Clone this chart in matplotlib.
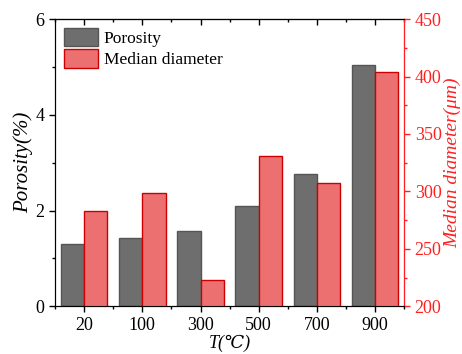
import numpy as np
import matplotlib.pyplot as plt
from matplotlib.ticker import MultipleLocator

plt.rcParams['font.family'] = ['Liberation Serif', 'DejaVu Serif']

temps = ['20', '100', '300', '500', '700', '900']
porosity = [1.30, 1.42, 1.58, 2.10, 2.76, 5.05]
median_diam = [283, 299, 223, 331, 307, 404]

grey = '#6e6e6e'
red = '#ec7070'
axis_red = '#ff2020'

fig = plt.figure(figsize=(4.62, 3.54), dpi=100)
ax = fig.add_axes([0.119, 0.135, 0.756, 0.811])
ax2 = ax.twinx()

x = np.arange(len(temps))
w = 0.4
b1 = ax.bar(x - w / 2, porosity, w, color=grey, edgecolor='#555555', linewidth=1.0,
            label='Porosity', zorder=2)
b2 = ax2.bar(x + w / 2, median_diam, w, color=red, edgecolor='#cc0000',
             linewidth=1.0, label='Median diameter', zorder=2)

ax.set_xlim(-0.5, 5.5)
ax.set_ylim(0, 6)
ax2.set_ylim(200, 450)

ax.set_xticks(x)
ax.set_xticklabels(temps)
ax.xaxis.set_minor_locator(MultipleLocator(0.5))
ax.yaxis.set_major_locator(MultipleLocator(2))
ax.yaxis.set_minor_locator(MultipleLocator(1))
ax2.yaxis.set_major_locator(MultipleLocator(50))
ax2.yaxis.set_minor_locator(MultipleLocator(25))

ax.tick_params(axis='both', which='major', labelsize=13, length=4, width=1)
ax.tick_params(axis='both', which='minor', length=2.5, width=1)
ax2.tick_params(axis='y', which='major', labelsize=13, length=4, width=1,
                colors=axis_red)
ax2.tick_params(axis='y', which='minor', length=2.5, width=1, colors=axis_red)
ax2.spines['right'].set_color(axis_red)

# top axis: inward ticks, no labels
top = ax.secondary_xaxis('top')
top.set_xticks(x)
top.xaxis.set_minor_locator(MultipleLocator(0.5))
top.tick_params(which='major', direction='in', length=4, width=1, labeltop=False)
top.tick_params(which='minor', direction='in', length=2.5, width=1)

ax.set_xlabel('T(℃)', fontsize=13, style='italic', labelpad=1)
ax.set_ylabel('Porosity(%)', fontsize=15, style='italic', labelpad=2)
ax2.set_ylabel('Median diameter(μm)', fontsize=14, style='italic', color=axis_red,
               labelpad=2)

ax.legend([b1, b2], ['Porosity', 'Median diameter'], loc='upper left', frameon=False,
          fontsize=12.5, handlelength=2.0, handleheight=1.25, handletextpad=0.3,
          labelspacing=0.15, borderaxespad=0.3, borderpad=0.2)

fig.savefig('out.png', dpi=100)
